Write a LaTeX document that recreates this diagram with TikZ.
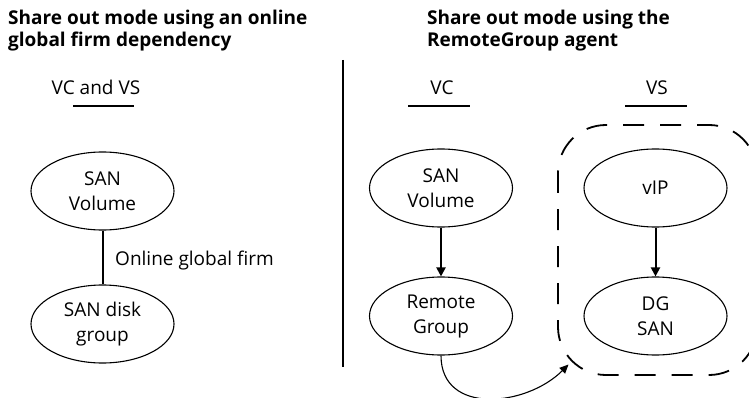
\documentclass[tikz,border=0pt]{standalone}
\usepackage{fontspec}
\setmainfont{Open Sans}
\usetikzlibrary{shapes.geometric,arrows.meta,calc}
\begin{document}
\begin{tikzpicture}[x=1pt,y=-1pt,
  every node/.style={inner sep=0pt, font=\fontsize{19}{25}\selectfont},
  titlebox/.style={font=\fontsize{19}{22}\selectfont\bfseries, align=left, anchor=base west},
  lbl/.style={anchor=base},
  ell/.style={draw, ellipse, line width=1.1pt, minimum width=143pt, minimum height=78pt, align=center},
  conn/.style={line width=2pt},
  arr/.style={line width=2pt, -{Triangle[length=9pt,width=9pt]}},
  rulebar/.style={line width=2pt},
  groupline/.style={draw, line width=1.8pt, dash pattern=on 21pt off 16pt},
]
\useasboundingbox (0,0) rectangle (749,398);

% titles (anchor = baseline of the last line)
\node[titlebox] (t1) at (8,47) {Share out mode using an online\\global firm dependency};
\node[titlebox] (t2) at (427,47) {Share out mode using the\\RemoteGroup agent};

\node[lbl] (h1) at (96,95) {VC and VS};
\node[lbl] (h2) at (442,95) {VC};
\node[lbl] (h3) at (657,95) {VS};
\draw[rulebar] (73,106) -- (134,106);
\draw[rulebar] (408,106) -- (470,106);
\draw[rulebar] (625,106) -- (687,106);
\draw[rulebar] (343,60) -- (343,367);

% left part
\node[ell] (sv1) at (102.5,191) {SAN\\Volume};
\node[ell] (dg1) at (102.5,324) {SAN disk\\group};
\draw[conn] (sv1.south) -- (dg1.north);
\node[anchor=base west] (olg) at (115,265) {Online global firm};

% right part: dashed group box
\draw[groupline] (558,172) -- (558,327)
  arc[start angle=180, end angle=270, radius=48pt] -- (709,375)
  arc[start angle=270, end angle=360, radius=48pt] -- (757,173)
  arc[start angle=0, end angle=90, radius=48pt] -- (606,125)
  arc[start angle=90, end angle=180, radius=48pt];

\node[ell] (sv2) at (441,188) {SAN\\Volume};
\node[ell] (rg) at (441,316) {Remote\\Group};
\node[ell] (vip) at (655.5,188) {vIP};
\node[ell] (dgs) at (655.5,316) {DG\\SAN};
\draw[arr] (sv2.south) -- (rg.north);
\draw[arr] (vip.south) -- (dgs.north);
\coordinate (tipend) at (568.5,364.5);
\draw[line width=1.1pt, -{Triangle[length=9pt,width=8pt]}] (rg.south) to[out=-90,in=-135,looseness=1.2] (tipend);
\end{tikzpicture}
\end{document}
